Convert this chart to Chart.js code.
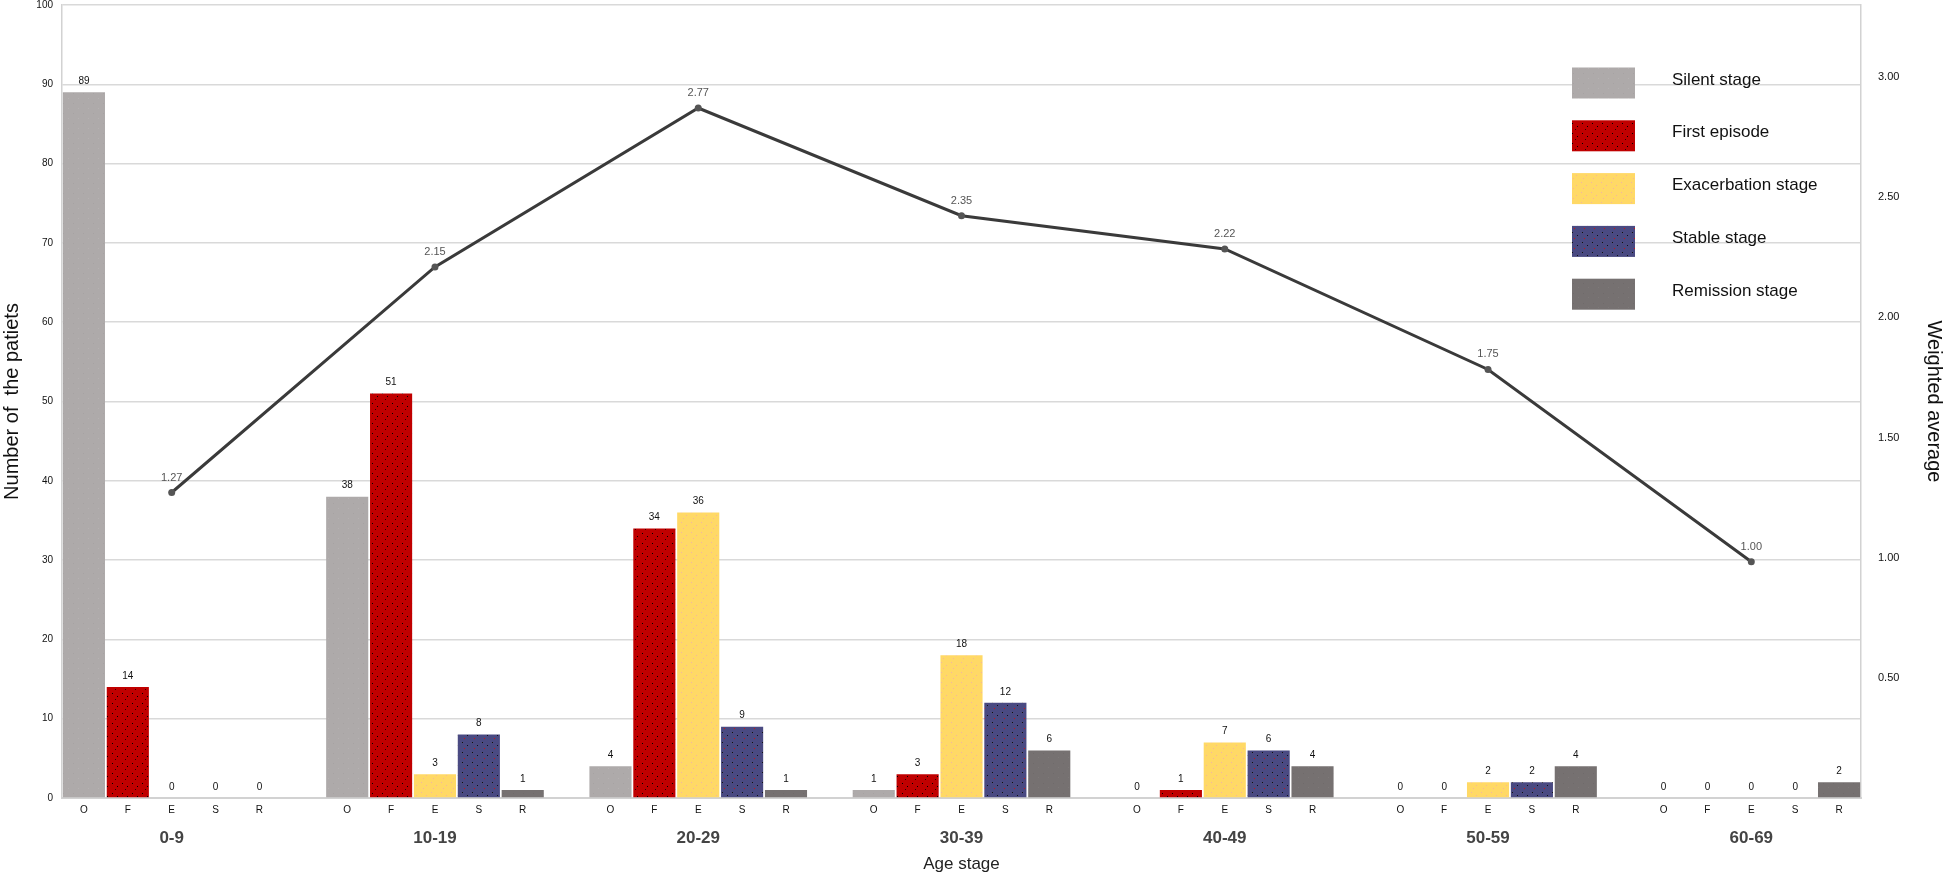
<!DOCTYPE html>
<html>
<head>
<meta charset="utf-8">
<script src="https://cdn.jsdelivr.net/npm/chart.js@4/dist/chart.umd.min.js"></script>
<style>
  html, body { margin: 0; padding: 0; background: #fff; }
  #wrap { width: 1946px; height: 875px; }
</style>
</head>
<body>
<div id="wrap"><canvas id="chart"></canvas></div>
<script>
/* ===================== DATA ===================== */
const ageGroups = ["0-9", "10-19", "20-29", "30-39", "40-49", "50-59", "60-69"];
const stageCodes = ["O", "F", "E", "S", "R"];
const stageNames = ["Silent stage", "First episode", "Exacerbation stage", "Stable stage", "Remission stage"];

const silent     = [89, 38, 4, 1, 0, 0, 0];
const first      = [14, 51, 34, 3, 1, 0, 0];
const exacerb    = [0, 3, 36, 18, 7, 2, 0];
const stable     = [0, 8, 9, 12, 6, 2, 0];
const remission  = [0, 1, 1, 6, 4, 4, 2];
const weighted   = [1.27, 2.15, 2.77, 2.35, 2.22, 1.75, 1.00];

const leftTicks  = [0, 10, 20, 30, 40, 50, 60, 70, 80, 90, 100];
const rightTicks = [0.5, 1.0, 1.5, 2.0, 2.5, 3.0];

/* ===================== SLOTS ===================== */
// each age group = 5 bar slots + 1 empty slot (none after the last group)
const slotLabels = [], groupLabels = [];
ageGroups.forEach((g, gi) => {
  stageCodes.forEach((c, k) => {
    slotLabels.push(c);
    groupLabels.push(k === 2 ? g : "");
  });
  if (gi < ageGroups.length - 1) { slotLabels.push(""); groupLabels.push(""); }
});
const slotOf = (gi, k) => gi * 6 + k;

function spread(values, k) {
  const arr = Array(slotLabels.length).fill(null);
  values.forEach((v, gi) => arr[slotOf(gi, k)] = v);
  return arr;
}

/* ===================== PATTERNS ===================== */
function pat(base, dots) {
  const c = document.createElement("canvas");
  c.width = 10; c.height = 10;
  const g = c.getContext("2d");
  g.fillStyle = base;
  g.fillRect(0, 0, 10, 10);
  dots.forEach(([x, y, col]) => { g.fillStyle = col; g.fillRect(x, y, 1, 1); });
  return g.createPattern(c, "repeat");
}

const stageColors = [
  pat("#aeaaaa", [[3, 3, "#a6a2a2"], [8, 8, "#b6b2b2"]]),
  pat("#c00000", [[2, 3, "#000"], [7, 6, "#000"], [5, 9, "#300"]]),
  pat("#ffd966", [[1, 2, "#f4b3a0"], [6, 5, "#f4b3a0"], [3, 8, "#f4b3a0"]]),
  pat("#4a4a82", [[2, 2, "#111"], [7, 5, "#111"], [4, 8, "#d01010"]]),
  pat("#767171", [[3, 3, "#6f6a6a"], [8, 7, "#7d7878"]])
];
const stageValues = [silent, first, exacerb, stable, remission];

const FONT = "'Liberation Sans', Arial, sans-serif";

/* ===================== LABEL PLUGIN ===================== */
const valueLabels = {
  id: "valueLabels",
  afterDatasetsDraw(chart) {
    const ctx = chart.ctx;
    ctx.save();
    ctx.textAlign = "center";
    ctx.textBaseline = "middle";
    chart.data.datasets.forEach((ds, di) => {
      const meta = chart.getDatasetMeta(di);
      meta.data.forEach((el, i) => {
        const v = ds.data[i];
        if (v === null || v === undefined) return;
        if (ds.type === "line") {
          ctx.fillStyle = "#555";
          ctx.font = "11px " + FONT;
          ctx.fillText(v.toFixed(2), el.x, el.y - 15);
        } else {
          ctx.fillStyle = "#111";
          ctx.font = "10px " + FONT;
          ctx.fillText(String(v), el.x, el.y - 11);
        }
      });
    });
    ctx.restore();
  }
};

/* ===================== LEGEND PLUGIN ===================== */
const boxLegend = {
  id: "boxLegend",
  afterDraw(chart) {
    const ctx = chart.ctx;
    const x0 = 1572, y0 = 83, gap = 52.8, bw = 63, bh = 31;
    ctx.save();
    ctx.font = "17px " + FONT;
    ctx.textBaseline = "middle";
    ctx.textAlign = "left";
    stageNames.forEach((name, k) => {
      const cy = y0 + k * gap;
      ctx.fillStyle = stageColors[k];
      ctx.fillRect(x0, cy - bh / 2, bw, bh);
      ctx.fillStyle = "#111";
      ctx.fillText(name, x0 + 100, cy - 3);
    });
    ctx.restore();
  }
};

/* ===================== CHART ===================== */
const datasets = stageValues.map((vals, k) => ({
  type: "bar",
  label: stageNames[k],
  data: spread(vals, k),
  backgroundColor: stageColors[k],
  grouped: false,
  barPercentage: 0.96,
  categoryPercentage: 1,
  xAxisID: "x",
  yAxisID: "y",
  order: 1
}));

datasets.push({
  type: "line",
  label: "Weighted average",
  data: spread(weighted, 2),
  spanGaps: true,
  borderColor: "#3a3a3a",
  borderWidth: 3,
  pointRadius: 3.5,
  pointBackgroundColor: "#555",
  pointBorderWidth: 0,
  xAxisID: "x",
  yAxisID: "yL",
  order: 0
});

const tickFont = { family: FONT, size: 10 };
const noVPad = s => { s.paddingTop = 0; s.paddingBottom = 0; };

new Chart(document.getElementById("chart"), {
  data: { labels: slotLabels, datasets },
  plugins: [valueLabels, boxLegend],
  options: {
    responsive: true,
    maintainAspectRatio: false,
    animation: false,
    layout: { padding: { top: 5, left: 0, right: 0, bottom: 0 } },
    plugins: { legend: { display: false }, tooltip: { enabled: false } },
    scales: {
      x: {
        type: "category",
        position: "bottom",
        weight: 0,
        offset: true,
        grid: { display: false, drawTicks: false },
        border: { display: true, color: "#d2d2d2", width: 2 },
        ticks: { autoSkip: false, maxRotation: 0, padding: 6, color: "#111", font: tickFont },
        afterFit: s => { s.height = 24; }
      },
      x2: {
        type: "category",
        position: "bottom",
        weight: 1,
        offset: true,
        labels: groupLabels,
        grid: { display: false, drawTicks: false },
        border: { display: false },
        ticks: { autoSkip: false, maxRotation: 0, padding: 6, color: "#444",
                 font: { family: FONT, size: 17, weight: "bold" } },
        title: { display: true, text: "Age stage", color: "#222", padding: { top: 0, bottom: 0 },
                 font: { family: FONT, size: 17 } },
        afterFit: s => { s.height = 53; }
      },
      y: {
        position: "left",
        min: 0,
        max: 100,
        grid: { color: "#d9d9d9", lineWidth: 1.5, drawTicks: false },
        border: { display: true, color: "#d2d2d2", width: 1.5 },
        afterBuildTicks: a => { a.ticks = leftTicks.map(v => ({ value: v })); },
        ticks: { padding: 9, color: "#111", font: tickFont },
        title: { display: true, text: "Number of  the patiets", color: "#111", padding: { top: 0, bottom: 0 },
                 font: { family: FONT, size: 20 } },
        afterFit: s => { s.width = 62; noVPad(s); }
      },
      y1: {
        position: "right",
        min: 0,
        max: 3.3,
        grid: { display: false, drawTicks: false },
        border: { display: true, color: "#d2d2d2", width: 1.5 },
        afterBuildTicks: a => { a.ticks = rightTicks.map(v => ({ value: v })); },
        ticks: { padding: 17, color: "#111", font: { family: FONT, size: 11 },
                 callback: v => Number(v).toFixed(2) },
        title: { display: true, text: "Weighted average", color: "#111", padding: { top: 0, bottom: 0 },
                 font: { family: FONT, size: 20 } },
        afterFit: s => { s.width = 85; noVPad(s); }
      },
      yL: {
        position: "right",
        display: false,
        min: 0.078,
        max: 3.172
      }
    }
  }
});
</script>
</body>
</html>
